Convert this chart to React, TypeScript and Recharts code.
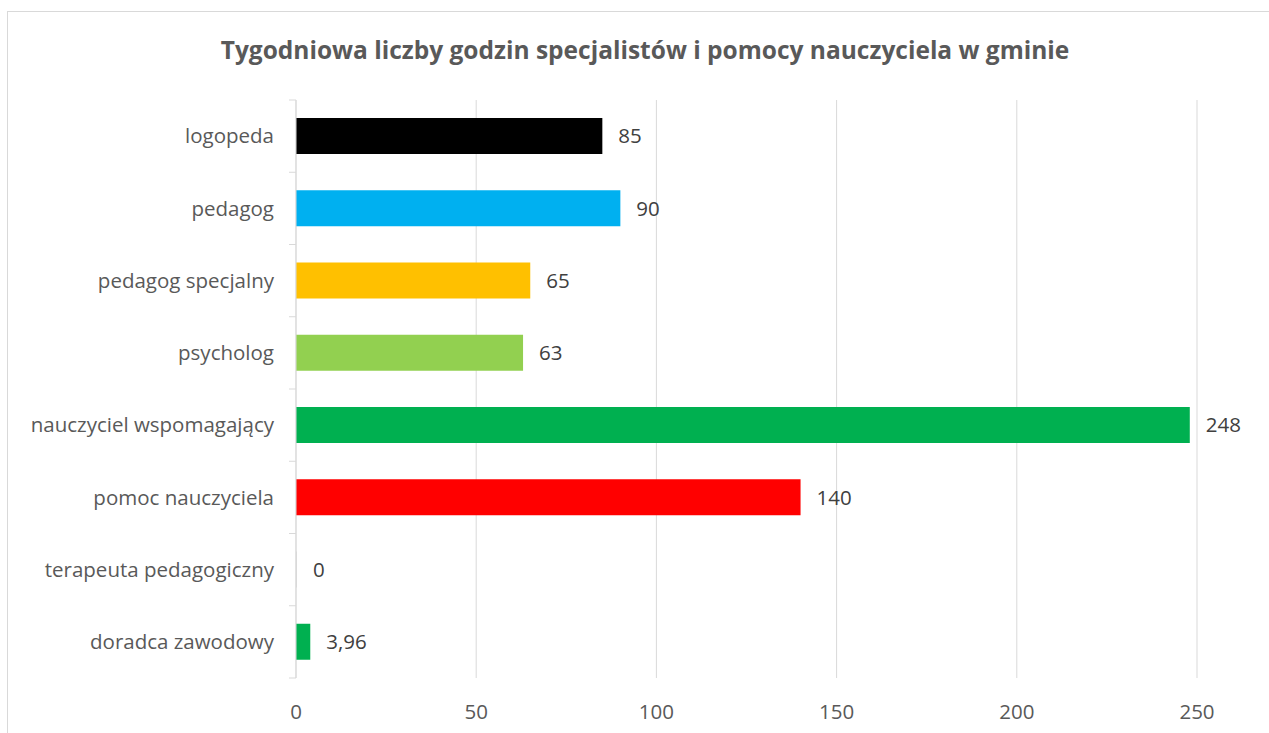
import { BarChart, Bar, XAxis, YAxis, CartesianGrid, Cell, LabelList } from "recharts";

const categories = [
  "logopeda",
  "pedagog",
  "pedagog specjalny",
  "psycholog",
  "nauczyciel wspomagający",
  "pomoc nauczyciela",
  "terapeuta pedagogiczny",
  "doradca zawodowy",
];
const hours = [85, 90, 65, 63, 248, 140, 0, 3.96];
// terapeuta has no visible bar; its 1px stub sits on the axis line
const barColors = ["#000000", "#00B0F0", "#FFC000", "#92D050", "#00B050", "#FF0000", "#d9d9d9", "#00B050"];
const xTicks = [0, 50, 100, 150, 200, 250];

const data = categories.map((name, i) => ({ name, value: hours[i] }));

const FONT = "'Open Sans', sans-serif";
const FS = 20.5;
const CHART_W = 1262;
const CHART_H = 722;
const MARGIN = { top: 88, right: 73, bottom: 16, left: 0 };
const X_AXIS_H = 40;
const plotH = CHART_H - MARGIN.top - MARGIN.bottom - X_AXIS_H;
const band = plotH / categories.length;

const fmt = (v: number) => String(v).replace(".", ",");

function CategoryTick(props: any) {
  const { x, y, payload, index } = props;
  const last = index === categories.length - 1;
  return (
    <g>
      <line x1={x - 7} x2={x} y1={y - band / 2} y2={y - band / 2} stroke="#d9d9d9" />
      {last && <line x1={x - 7} x2={x} y1={y + band / 2} y2={y + band / 2} stroke="#d9d9d9" />}
      <text x={x - 22} y={y} dy="0.35em" textAnchor="end" fill="#595959" fontSize={FS} fontFamily={FONT}>
        {payload.value}
      </text>
    </g>
  );
}

export default function App() {
  return (
    <div
      style={{
        position: "absolute",
        left: 7,
        top: 11,
        width: CHART_W,
        height: CHART_H,
        border: "1px solid #d9d9d9",
        background: "#fff",
      }}
    >
      <div
        style={{
          position: "absolute",
          left: 12,
          right: 0,
          top: 21,
          textAlign: "center",
          fontFamily: FONT,
          fontWeight: 700,
          fontSize: 24.5,
          color: "#595959",
        }}
      >
        Tygodniowa liczby godzin specjalistów i pomocy nauczyciela w gminie
      </div>
      <BarChart width={CHART_W} height={CHART_H} data={data} layout="vertical" margin={MARGIN}>
        <CartesianGrid horizontal={false} stroke="#d9d9d9" />
        <XAxis
          type="number"
          domain={[0, 250]}
          ticks={xTicks}
          axisLine={false}
          tickLine={false}
          height={X_AXIS_H}
          tickMargin={20}
          tick={{ fill: "#595959", fontSize: FS, fontFamily: FONT }}
        />
        <YAxis
          type="category"
          dataKey="name"
          width={288}
          axisLine={{ stroke: "#d9d9d9" }}
          tickLine={false}
          tickSize={0}
          tickMargin={0}
          tick={<CategoryTick />}
          interval={0}
        />
        <Bar dataKey="value" barSize={36} minPointSize={1} isAnimationActive={false}>
          {data.map((d, i) => (
            <Cell key={d.name} fill={barColors[i]} />
          ))}
          <LabelList
            dataKey="value"
            position="right"
            offset={16}
            formatter={(v: any) => fmt(v)}
            fill="#404040"
            fontSize={FS}
            fontFamily={FONT}
          />
        </Bar>
      </BarChart>
    </div>
  );
}
